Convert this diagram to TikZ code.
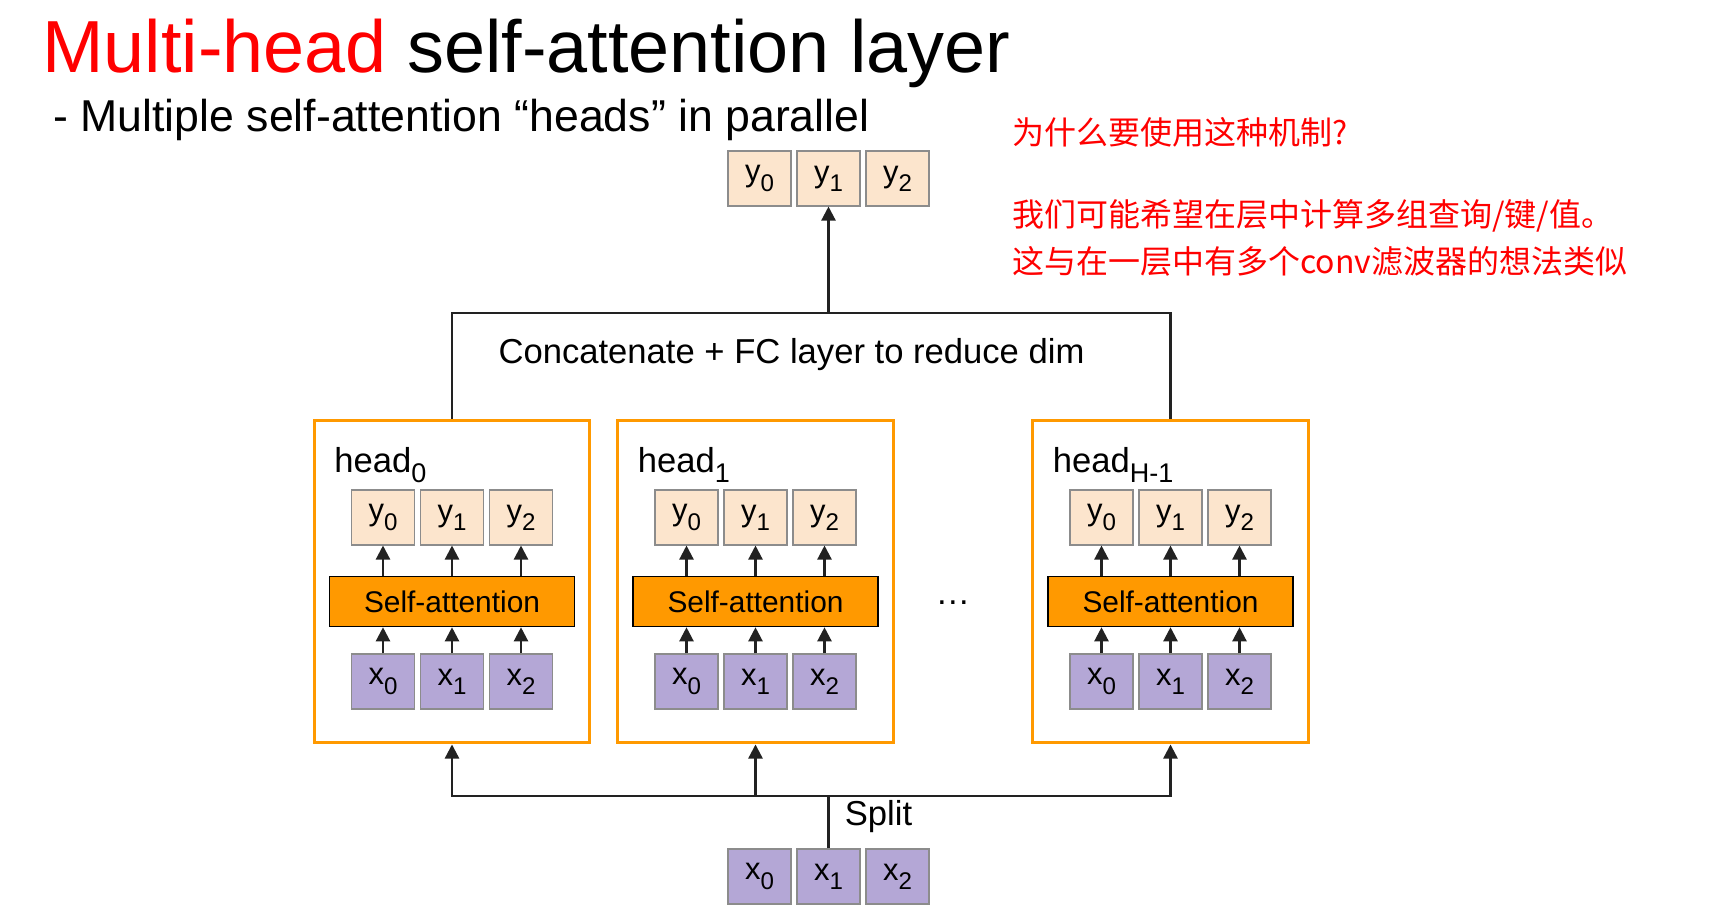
\documentclass[tikz,border=0pt]{standalone}
\usepackage{fontspec}
\setmainfont{Liberation Sans}
\newfontfamily\cjk{Noto Sans CJK SC}
\usepackage{tikz}
\usetikzlibrary{arrows.meta}
\definecolor{redx}{HTML}{FF0000}
\definecolor{orangex}{HTML}{FF9900}
\definecolor{peach}{HTML}{FCE5CD}
\definecolor{lilac}{HTML}{B4A7D6}
\definecolor{grayb}{HTML}{8C8C8C}
\definecolor{dk}{HTML}{222222}
\newcommand\lo[1]{\raisebox{-0.3em}{\scalebox{0.78}{#1}}}
\tikzset{
  ttl/.style={inner sep=0pt,font=\fontsize{42}{50}\selectfont},
  subttl/.style={inner sep=0pt,font=\fontsize{25.4}{30}\selectfont},
  cn/.style={inner sep=0pt,text=redx,font=\cjk\fontsize{18.2}{22}\selectfont},
  lbl/.style={inner sep=0pt,font=\fontsize{19.7}{24}\selectfont},
  hd/.style={draw=orangex,line width=1.7pt,minimum width=5.52cm,minimum height=6.46cm,inner sep=0pt},
  yb/.style={draw=grayb,line width=0.6pt,fill=peach,minimum width=1.26cm,minimum height=1.1cm,inner sep=0pt,font=\fontsize{17.6}{20}\selectfont},
  xb/.style={yb,fill=lilac},
  sa/.style={draw=black,line width=0.9pt,fill=orangex,minimum width=4.9cm,minimum height=1cm,inner sep=0pt,font=\fontsize{17}{20}\selectfont},
  ln/.style={draw=dk,line width=1.3pt},
  ar/.style={ln,-{Triangle[length=8pt,width=8pt]}}
}
\begin{document}
\begin{tikzpicture}[x=0.02cm,y=-0.02cm]
\fill[white] (0,0) rectangle (1728,910);
\useasboundingbox (0,0) rectangle (1728,910);
\node[ttl,anchor=base west] (title) at (42,72) {\textcolor{redx}{Multi-head} self-attention layer};
\node[subttl,anchor=base west] (subtitle) at (53,131) {- Multiple self-attention “heads” in parallel};
\node[cn,anchor=west] (why) at (1012,132) {为什么要使用这种机制?};
\node[cn,anchor=west] (ans1) at (1012,216) {我们可能希望在层中计算多组查询/键/值。};
\node[cn,anchor=west] (ans2) at (1012,261) {这与在一层中有多个conv滤波器的想法类似};

\foreach \i/\cx/\s in {0/452/0,1/755.5/1,2/1170.5/H-1}{
  \node[hd] (head\i) at (\cx,581.5) {};
  \node[lbl,anchor=base west] (hl\i) at (\cx-118,472) {head\lo{\s}};
  \node[sa] (sa\i) at (\cx,601.5) {Self-attention};
  \foreach \j/\dx in {0/-69,1/0,2/69}{
    \node[yb] (hy\i\j) at (\cx+\dx,517.5) {y\lo{\j}};
    \node[xb] (hx\i\j) at (\cx+\dx,681.5) {x\lo{\j}};
    \draw[ar] (sa\i.north -| hy\i\j) -- (hy\i\j);
    \draw[ar] (hx\i\j) -- (sa\i.south -| hx\i\j);
  }
}
\node[lbl,anchor=base] (dots) at (953,604) {…};

\foreach \j/\xx in {0/759.5,1/828.5,2/897.5}{
  \node[yb] (ty\j) at (\xx,178.5) {y\lo{\j}};
  \node[xb] (bx\j) at (\xx,876.5) {x\lo{\j}};
}

\node[lbl,anchor=base] (cat) at (791.5,363) {Concatenate + FC layer to reduce dim};
\coordinate (ctop) at (828.5,313);
\draw[ln] (head0.north) |- (ctop) -| (head2.north);
\draw[ar] (ctop) -- (ty1);

\coordinate (sp) at (828.5,796);
\draw[ln] (bx1) -- (sp);
\draw[ar] (sp) -| (head0.south);
\draw[ar] (sp) -| (head2.south);
\draw[ar] (head1.south |- sp) -- (head1.south);
\node[lbl,anchor=base] (split) at (878.5,825) {Split};
\end{tikzpicture}
\end{document}
